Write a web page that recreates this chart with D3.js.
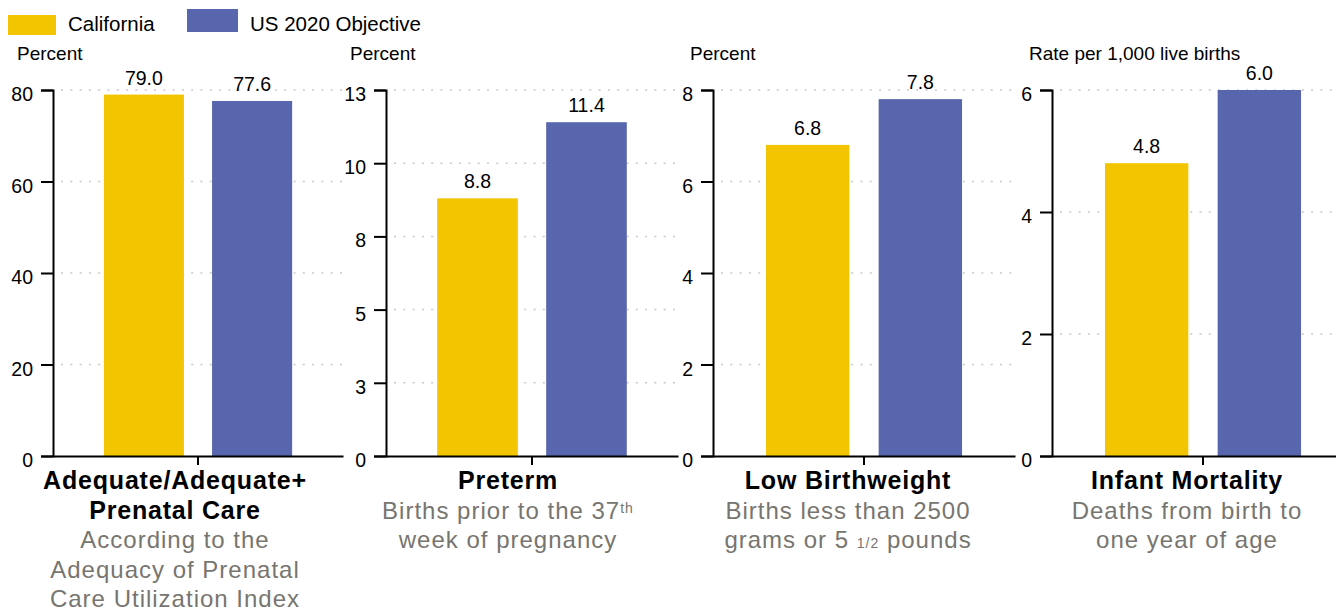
<html><head>
<script src="https://d3js.org/d3.v7.min.js"></script>
<style>
  body { margin: 0; background: #fff; }
  text { font-family: "Liberation Sans", Arial, Helvetica, sans-serif; fill: #000; }
  .grid line { stroke: #c8c8c8; stroke-width: 1.5px; stroke-dasharray: 2,7.3; }
  .axis path, .axis line { stroke: #000; stroke-width: 2px; }
  .axis text { font-size: 19.5px; }
  .title { font-size: 25px; font-weight: bold; letter-spacing: 0.8px; }
  .note { font-size: 24px; fill: #77756f; letter-spacing: 1px; }
</style>
</head>
<body>
<svg id="chart" width="1336" height="609"></svg>
<script>

const series = ["California", "US 2020 Objective"];
const colors = ["#f2c500", "#5766ad"];

const californiaValues = [79.0, 8.8, 6.8, 4.8];
const objectiveValues = [77.6, 11.4, 7.8, 6.0];

const units = ["Percent", "Percent", "Percent", "Rate per 1,000 live births"];
const yMax = [80, 12.5, 8, 6];
const yTicks = [[0, 20, 40, 60, 80], [0, 2.5, 5, 7.5, 10, 12.5], [0, 2, 4, 6, 8], [0, 2, 4, 6]];

const titles = [["Adequate/Adequate+", "Prenatal Care"], ["Preterm"], ["Low Birthweight"], ["Infant Mortality"]];
// each line is a list of pieces, "sup"/"small" get the smaller type
const notes = [
  [[["According to the"]], [["Adequacy of Prenatal"]], [["Care Utilization Index"]]],
  [[["Births prior to the 37"], ["th", "sup"]], [["week of pregnancy"]]],
  [[["Births less than 2500"]], [["grams or 5 "], ["1/2", "small"], [" pounds"]]],
  [[["Deaths from birth to"]], [["one year of age"]]]
];

// where each panel sits
const panels = [
  { x: 53, w: 290, labelX: 175, unitX: 17 },
  { x: 386, w: 292, labelX: 508, unitX: 350 },
  { x: 713, w: 302, labelX: 848, unitX: 690 },
  { x: 1052, w: 302, labelX: 1187, unitX: 1029 }
];
const plotTop = 90, plotBottom = 456;

const svg = d3.select("#chart");

// legend
const legend = svg.append("g");
legend.append("rect").attr("x", 8).attr("y", 15).attr("width", 48).attr("height", 20).attr("fill", colors[0]);
legend.append("text").attr("x", 68).attr("y", 31).style("font-size", "20.5px").text(series[0]);
legend.append("rect").attr("x", 187).attr("y", 9).attr("width", 51).attr("height", 23).attr("fill", colors[1]);
legend.append("text").attr("x", 250).attr("y", 31).style("font-size", "20.5px").text(series[1]);

panels.forEach((p, i) => {
  const g = svg.append("g").attr("transform", "translate(" + p.x + ",0)");
  const values = [californiaValues[i], objectiveValues[i]];

  const y = d3.scaleLinear().domain([0, yMax[i]]).range([plotBottom, plotTop]);
  const x = d3.scaleBand().domain(series).range([0, p.w]).paddingInner(0.26).paddingOuter(0.47);

  // dotted grid behind the bars
  g.append("g").attr("class", "grid")
    .selectAll("line").data(yTicks[i].slice(1))
    .join("line")
    .attr("x1", 8).attr("x2", p.w)
    .attr("y1", d => y(d)).attr("y2", d => y(d));

  g.selectAll("rect.bar").data(values)
    .join("rect")
    .attr("class", "bar")
    .attr("x", (d, j) => x(series[j]))
    .attr("width", x.bandwidth())
    .attr("y", d => y(d))
    .attr("height", d => plotBottom - y(d))
    .attr("fill", (d, j) => colors[j]);

  g.selectAll("text.value").data(values)
    .join("text")
    .attr("class", "value")
    .attr("x", (d, j) => x(series[j]) + x.bandwidth() / 2)
    .attr("y", d => y(d) - 10)
    .attr("text-anchor", "middle")
    .style("font-size", "19.5px")
    .text(d => d.toFixed(1));

  // axes
  const yAxis = g.append("g").attr("class", "axis")
    .call(d3.axisLeft(y).tickValues(yTicks[i]).tickSize(12).tickSizeOuter(12).tickPadding(8)
      .tickFormat(d => Math.round(d)));
  yAxis.selectAll("text").attr("dy", "0.54em");

  const cat = d3.scaleBand().domain([titles[i][0]]).range([0, p.w]);
  g.append("g").attr("class", "axis")
    .attr("transform", "translate(0," + plotBottom + ")")
    .call(d3.axisBottom(cat).tickSize(9).tickSizeOuter(0).tickFormat(""));

  svg.append("text")
    .attr("x", p.unitX).attr("y", 60)
    .style("font-size", "19px")
    .text(units[i]);

  // category label underneath
  const lab = svg.append("g");
  let baseline = 489;
  titles[i].forEach(t => {
    lab.append("text").attr("class", "title")
      .attr("x", p.labelX).attr("y", baseline)
      .attr("text-anchor", "middle").text(t);
    baseline += 29.6;
  });
  notes[i].forEach(line => {
    const t = lab.append("text").attr("class", "note")
      .attr("x", p.labelX).attr("y", baseline)
      .attr("text-anchor", "middle");
    line.forEach(piece => {
      const span = t.append("tspan").text(piece[0]);
      if (piece[1] === "sup") {
        span.style("font-size", "14px").attr("dy", -6);
      } else if (piece[1] === "small") {
        span.style("font-size", "14px");
      }
    });
    baseline += 29.6;
  });
});

</script>
</body>
</html>
